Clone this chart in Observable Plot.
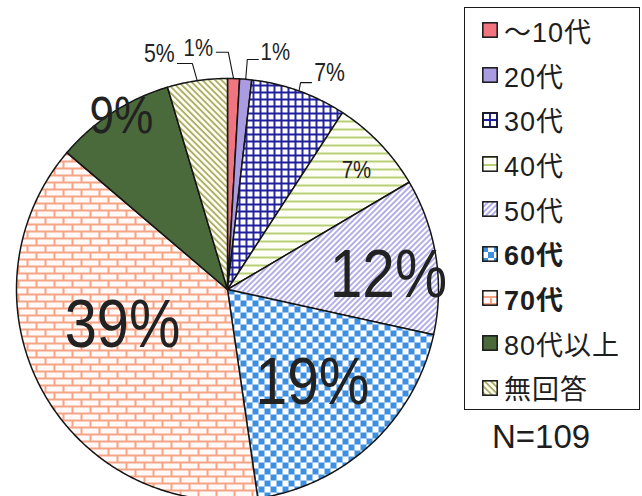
<!DOCTYPE html>
<html><head><meta charset="utf-8">
<script src="https://cdn.jsdelivr.net/npm/d3@7"></script>
<script src="https://cdn.jsdelivr.net/npm/@observablehq/plot@0.6"></script>
<style>
html,body{margin:0;padding:0;background:#fff;overflow:hidden;}
#wrap{position:relative;width:642px;height:496px;overflow:hidden;background:#fff;}
#wrap svg.plot{position:absolute;left:0;top:0;}
#legend{position:absolute;left:464px;top:7px;width:176px;height:403px;border:1.5px solid #1a1a1a;box-sizing:border-box;background:#fff;
  font-family:"Liberation Sans","Noto Sans CJK JP",sans-serif;font-size:27px;letter-spacing:1px;color:#1e1e1e;padding-top:0px;}
.item{display:flex;align-items:center;height:44.7px;}
.item svg{margin-left:17px;margin-right:6px;flex:none;}
#ncap{position:absolute;left:492px;top:418px;font-family:"Liberation Sans",sans-serif;font-size:33px;color:#1e1e1e;}
</style></head>
<body>
<svg width="0" height="0" style="position:absolute">
<defs>
<pattern id="p10" width="4" height="4" patternUnits="userSpaceOnUse"><rect width="4" height="4" fill="#f0757f"/></pattern>
<pattern id="p20" width="4" height="4" patternUnits="userSpaceOnUse"><rect width="4" height="4" fill="#a99ce0"/></pattern>
<pattern id="p30" width="7" height="7" patternUnits="userSpaceOnUse"><rect width="7" height="7" fill="#fff"/><path d="M0 1H7M1 0V7" stroke="#1f1f9c" stroke-width="1.9"/></pattern>
<pattern id="p40" width="8" height="8" patternUnits="userSpaceOnUse"><rect width="8" height="8" fill="#fffef6"/><path d="M0 1H8" stroke="#b8cf78" stroke-width="2"/></pattern>
<pattern id="p50" width="4" height="4" patternUnits="userSpaceOnUse" patternTransform="rotate(45)"><rect width="4" height="4" fill="#fff"/><path d="M1 0V4" stroke="#a7a0e2" stroke-width="1.7"/></pattern>
<pattern id="p60" width="12" height="12" patternUnits="userSpaceOnUse"><rect width="12" height="12" fill="#fff"/><rect width="6" height="6" fill="#3d8fe2"/><rect x="6" y="6" width="6" height="6" fill="#3d8fe2"/></pattern>
<pattern id="p70" width="18" height="14" patternUnits="userSpaceOnUse"><rect width="18" height="14" fill="#f6a486"/><rect x="1" y="1" width="16" height="5" fill="#fffaf7"/><rect x="-8" y="8" width="16" height="5" fill="#fffaf7"/><rect x="10" y="8" width="16" height="5" fill="#fffaf7"/></pattern>
<pattern id="p80" width="4" height="4" patternUnits="userSpaceOnUse"><rect width="4" height="4" fill="#4b6a3b"/></pattern>
<pattern id="pNA" width="4.5" height="4.5" patternUnits="userSpaceOnUse" patternTransform="rotate(-45)"><rect width="4.5" height="4.5" fill="#fffff4"/><path d="M1 0V4.5" stroke="#aaa963" stroke-width="1.8"/></pattern>
</defs>
</svg>
<div id="wrap"></div>
<script>
// ---- data ----
const categories = ["～10代", "20代", "30代", "40代", "50代", "60代", "70代", "80代以上", "無回答"];
const counts = [1, 1, 8, 8, 13, 21, 42, 10, 5];

// ---- styles / layout ----
const patternIds = ["p10", "p20", "p30", "p40", "p50", "p60", "p70", "p80", "pNA"];
const legendBold = [false, false, false, false, false, true, true, false, false];
// label placement: [angle deg clockwise from top, radius fraction, font size]
const labelLayout = [
  [353.1, 1.152, 24], [11.4, 1.146, 24], [25.2, 1.136, 25], [47.3, 0.832, 24],
  [84.7, 0.766, 69], [137.6, 0.597, 67], [251.1, 0.526, 68], [328.5, 0.962, 52], [343.9, 1.164, 25]
];
// leader lines for outside labels: [startDx, startDy, elbowDx] px relative to label centre
const leaderLayout = {0: [18, 4, 30], 1: [-17, 7, -28], 2: [-18, 10, -29], 8: [18, 10, 33]};
const cx = 227, cy = 289, R = 211;
const narrow = 0.85;

const N = d3.sum(counts);
const ends = d3.cumsum(counts);
const slices = categories.map((c, i) => ({
  key: c, i,
  a0: (ends[i] - counts[i]) / N * 2 * Math.PI,
  a1: ends[i] / N * 2 * Math.PI,
  label: Math.round(counts[i] / N * 100) + "%",
  fill: `url(#${patternIds[i]})`
}));

const wedgePts = slices.flatMap(s => {
  const n = Math.max(2, Math.ceil((s.a1 - s.a0) / 0.01));
  const pts = [{key: s.key, fill: s.fill, x: 0, y: 0}];
  for (let k = 0; k <= n; k++) {
    const a = s.a0 + (s.a1 - s.a0) * k / n;
    pts.push({key: s.key, fill: s.fill, x: Math.sin(a), y: Math.cos(a)});
  }
  pts.push({key: s.key, fill: s.fill, x: 0, y: 0});
  return pts;
});

const labels = slices.map(s => {
  const [ang, rf, fs] = labelLayout[s.i];
  const a = ang * Math.PI / 180;
  return {text: s.label, x: rf * Math.sin(a), y: rf * Math.cos(a), fs};
});

const leaderPts = Object.entries(leaderLayout).flatMap(([k, [sdx, sdy, edx]]) => {
  const i = +k, s = slices[i], L = labels[i];
  const mid = (s.a0 + s.a1) / 2;
  return [
    {k: i, x: L.x + sdx / R, y: L.y - sdy / R},
    {k: i, x: L.x + edx / R, y: L.y - sdy / R},
    {k: i, x: Math.sin(mid), y: Math.cos(mid)}
  ];
});

const chart = Plot.plot({
  width: 642, height: 496,
  margin: 0,
  x: {domain: [-1, 1], range: [cx - R, cx + R], axis: null},
  y: {domain: [-1, 1], range: [cy + R, cy - R], axis: null},
  color: {type: "identity"},
  style: {background: "transparent", overflow: "visible"},
  marks: [
    Plot.line(wedgePts, {x: "x", y: "y", z: "key", fill: "fill", stroke: "#151515", strokeWidth: 1.5, curve: "linear"}),
    Plot.line(leaderPts, {x: "x", y: "y", z: "k", stroke: "#151515", strokeWidth: 1.1, curve: "linear"}),
    Plot.text(labels, {x: "x", y: "y", text: "text", fontSize: "fs", fill: "#222",
      fontFamily: '"Liberation Sans Narrow","Arial Narrow","Liberation Sans",sans-serif'})
  ]
});
const wrap = document.getElementById("wrap");
wrap.appendChild(chart);
// condense the percentage labels horizontally (Arial Narrow look), scaling about each label's own centre
chart.querySelectorAll("text").forEach(t => {
  const b = t.getBBox();
  const c = b.x + b.width / 2;
  const tr = t.getAttribute("transform") || "";
  t.setAttribute("transform", `${tr} translate(${c},0) scale(${narrow},1) translate(${-c},0)`);
});

// legend
const legend = document.createElement("div");
legend.id = "legend";
categories.forEach((c, i) => {
  const it = document.createElement("div");
  it.className = "item";
  it.innerHTML = `<svg width="16" height="16"><rect x="0.8" y="0.8" width="14.4" height="14.4" fill="url(#${patternIds[i]})" stroke="#151515" stroke-width="1.5"/></svg><span style="font-weight:${legendBold[i] ? "bold" : "normal"}">${c}</span>`;
  legend.appendChild(it);
});
wrap.appendChild(legend);
const ncap = document.createElement("div");
ncap.id = "ncap";
ncap.textContent = "N=" + N;
wrap.appendChild(ncap);
</script>
</body></html>
